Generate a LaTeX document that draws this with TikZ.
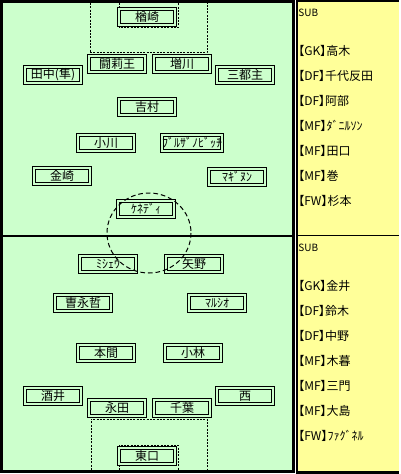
\documentclass[tikz,border=0pt]{standalone}
\usepackage{fontspec}
\newfontfamily\jpfont{Noto Sans CJK JP}
\newfontfamily\jpbenchfont[RawFeature=+palt]{Noto Sans CJK JP}
\usepackage{tikz}
\usetikzlibrary{positioning}

\definecolor{pitch}{RGB}{204,255,204}
\definecolor{bench}{RGB}{255,255,153}

\tikzset{
  player/.style={draw=black, line width=0.9pt, double=pitch, double distance=1.3pt,
    fill=pitch, minimum width=42pt, minimum height=12pt, inner sep=0pt,
    font=\jpfont\fontsize{9}{10}\selectfont},
  benchline/.style={text width=70pt, align=left, inner sep=0pt, text height=8pt,
    text depth=2pt, font=\jpbenchfont\fontsize{9}{10}\selectfont},
  benchhead/.style={benchline, font=\jpbenchfont\fontsize{7.5}{8}\selectfont},
  boxline/.style={line width=0.75pt, dash pattern=on 1.5pt off 1pt},
  circleline/.style={line width=0.75pt, dash pattern=on 3.5pt off 2.2pt},
}

\begin{document}
\begin{tikzpicture}[x=0.75pt, y=-0.75pt, node distance=18.75pt, on grid]
    \useasboundingbox (0,0) rectangle (400,474);

    % pitch and bench panels
    \fill[pitch] (0,0) rectangle (295,473);
    \fill[bench] (296,0) rectangle (399,474);
    \draw[line width=2.25pt] (1.5,1.5) rectangle (293.5,471.5);
    \draw[line width=1.5pt] (3,236) -- (292,236);
    \draw[line width=1.3pt] (297.1,0) -- (297.1,474);
    \draw[line width=1.5pt] (296,1) -- (399,1);
    \draw[line width=1pt] (298,235.5) -- (399,235.5);
    \draw[line width=2.25pt] (296,472.5) -- (399,472.5);

    % penalty and goal areas
    \draw[boxline] (90,3) -- (90,53) -- (207,53) -- (207,3);
    \draw[boxline] (119,3) -- (119,28) -- (178,28) -- (178,3);
    \draw[boxline] (91,470) -- (91,419) -- (207,419) -- (207,470);
    \draw[boxline] (119,470) -- (119,445) -- (178,445) -- (178,470);

    % top team
    \node[player] (narazaki) at (147,17) {楢崎};
    \node[player] (tulio) at (117,64) {闘莉王};
    \node[player] (masukawa) at (182,64) {増川};
    \node[player] (tanaka) at (53,75) {田中(隼)};
    \node[player] (santos) at (245,75) {三都主};
    \node[player] (yoshimura) at (147,107) {吉村};
    \node[player] (ogawa) at (106,143) {小川};
    \node[player] (burzanovic) at (192,143) {ﾌﾞﾙｻﾞﾉﾋﾞｯﾁ};
    \node[player] (kanazaki) at (62,176) {金崎};
    \node[player] (maginun) at (237,177) {ﾏｷﾞﾇﾝ};
    \node[player] (kennedy) at (146,209) {ｹﾈﾃﾞｨ};

    % bottom team
    \node[player] (michael) at (108,264) {ﾐｼｪｳ};
    \node[player] (yano) at (194,264) {矢野};
    \node[player] (cho) at (83,303) {曺永哲};
    \node[player] (marcio) at (217,303) {ﾏﾙｼｵ};
    \node[player] (honma) at (106,353) {本間};
    \node[player] (kobayashi) at (193,353) {小林};
    \node[player] (sakai) at (53,396) {酒井};
    \node[player] (nishi) at (245,396) {西};
    \node[player] (nagata) at (117,408) {永田};
    \node[player] (chiba) at (182,408) {千葉};
    \node[player] (higashiguchi) at (147,456) {東口};

    % centre circle
    \draw[circleline] (149,233) ellipse [x radius=42, y radius=40];

    % top bench
    \node[benchhead] (subtop) at (345,13) {SUB};
    \node[benchline, below=29pt of subtop] (takagi) {【GK】高木};
    \node[benchline, below=of takagi] (chiyotanda) {【DF】千代反田};
    \node[benchline, below=of chiyotanda] (abe) {【DF】阿部};
    \node[benchline, below=of abe] (danilson) {【MF】ﾀﾞﾆﾙｿﾝ};
    \node[benchline, below=of danilson] (taguchi) {【MF】田口};
    \node[benchline, below=of taguchi] (maki) {【MF】巻};
    \node[benchline, below=of maki] (sugimoto) {【FW】杉本};

    % bottom bench
    \node[benchhead] (subbottom) at (345,247.5) {SUB};
    \node[benchline, below=29pt of subbottom] (kanai) {【GK】金井};
    \node[benchline, below=of kanai] (suzuki) {【DF】鈴木};
    \node[benchline, below=of suzuki] (nakano) {【DF】中野};
    \node[benchline, below=of nakano] (kogure) {【MF】木暮};
    \node[benchline, below=of kogure] (mikado) {【MF】三門};
    \node[benchline, below=of mikado] (oshima) {【MF】大島};
    \node[benchline, below=of oshima] (fagner) {【FW】ﾌｧｸﾞﾈﾙ};
\end{tikzpicture}
\end{document}
